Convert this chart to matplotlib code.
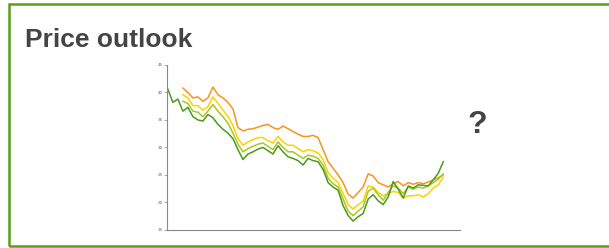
import numpy as np
import matplotlib
matplotlib.use("Agg")
import matplotlib.pyplot as plt
from matplotlib.patches import Rectangle

nan = np.nan

# price paths (sampled at evenly spaced dates)
green = [40.6, 38.2, 38.8, 36.6, 37.3, 35.6, 35.0, 34.8, 36.0, 35.4,
         34.2, 33.3, 32.6, 31.6, 29.6, 27.8, 28.8, 29.2, 29.7, 30.0,
         29.4, 28.8, 30.3, 29.2, 28.3, 28.0, 27.6, 26.8, 28.0, 27.6,
         27.4, 26.0, 23.6, 22.8, 22.2, 19.4, 17.6, 16.6, 17.4, 18.0,
         20.6, 21.4, 20.3, 19.6, 21.0, 23.8, 22.4, 20.8, 23.0, 22.6,
         23.2, 23.1, 23.0, 24.1, 25.3, 27.4]
orange = [nan, nan, nan, 40.8, 40.0, 39.0, 39.2, 38.4, 39.0, 41.0,
          39.6, 39.0, 38.2, 37.0, 33.6, 33.0, 33.3, 33.4, 33.7, 34.0,
          34.2, 33.6, 33.3, 33.9, 33.4, 32.9, 32.4, 32.0, 32.0, 32.2,
          31.8, 29.6, 27.4, 26.2, 25.0, 23.6, 21.5, 20.8, 21.8, 22.8,
          25.2, 24.8, 23.6, 23.2, 22.8, 23.4, 23.8, 23.0, 23.6, 23.3,
          23.6, 23.4, 23.7, 24.1, 24.5, 25.0]
yellow = [nan, nan, nan, 39.6, 39.0, 37.6, 37.6, 36.8, 37.4, 39.2,
          38.0, 36.8, 35.6, 34.0, 31.6, 30.4, 31.0, 31.4, 31.8, 31.8,
          31.2, 30.8, 32.0, 31.0, 30.4, 30.4, 29.8, 29.2, 29.6, 29.4,
          29.0, 27.8, 25.4, 24.4, 23.6, 21.6, 19.6, 18.8, 19.6, 20.2,
          23.0, 22.8, 21.8, 21.2, 21.6, 22.0, 21.8, 20.8, 21.2, 21.2,
          21.4, 21.0, 21.6, 22.6, 23.2, 24.6]
lime = [nan, nan, nan, 38.4, 38.0, 36.6, 36.4, 35.6, 36.6, 37.8,
        36.6, 35.6, 34.4, 32.6, 30.6, 29.2, 29.8, 30.2, 30.6, 30.8,
        30.2, 29.6, 31.0, 30.0, 29.2, 29.2, 28.6, 28.0, 28.6, 28.4,
        28.0, 26.8, 24.4, 23.4, 22.8, 20.6, 18.4, 17.6, 18.4, 19.2,
        22.0, 22.6, 21.4, 20.4, 21.8, 23.0, 22.6, 21.6, 22.8, 22.4,
        22.8, 22.6, 23.0, 23.6, 24.2, 25.2]

yticks = [15, 20, 25, 30, 35, 40, 45]

fig = plt.figure(figsize=(6.09, 2.48), dpi=100)
# green frame, right edge runs off the image
fig.patches.append(Rectangle((0.0148, 0.008), 1.05, 0.974, transform=fig.transFigure,
                             fill=False, edgecolor="#5a9e1a", linewidth=1.8))
fig.text(0.041, 0.81, "Price outlook", fontsize=19, fontweight="bold",
         color="#444444", family="Liberation Sans", va="baseline")
fig.text(0.783, 0.497, "?", fontsize=23, fontweight="bold",
         color="#444444", family="Liberation Sans", ha="center", va="center")

ax = fig.add_axes([0.274, 0.073, 0.481, 0.665])
x = np.arange(len(green))
for vals, col in [(orange, "#f7941d"), (yellow, "#ffd000"),
                  (lime, "#a9c81c"), (green, "#4c9a1c")]:
    ax.plot(x, vals, color=col, lw=1.1)

ax.set_xlim(-0.2, 58.3)
ax.set_ylim(15, 45)
ax.set_yticks(yticks)
ax.set_yticklabels([str(v) for v in yticks], fontsize=3, color="#666666")
ax.set_xticks([])
ax.tick_params(axis="y", length=2, width=0.5, color="#888888", pad=1)
for s in ["top", "right"]:
    ax.spines[s].set_visible(False)
for s in ["left", "bottom"]:
    ax.spines[s].set_color("#888888")
    ax.spines[s].set_linewidth(0.8)

fig.savefig("out.png", dpi=100)
